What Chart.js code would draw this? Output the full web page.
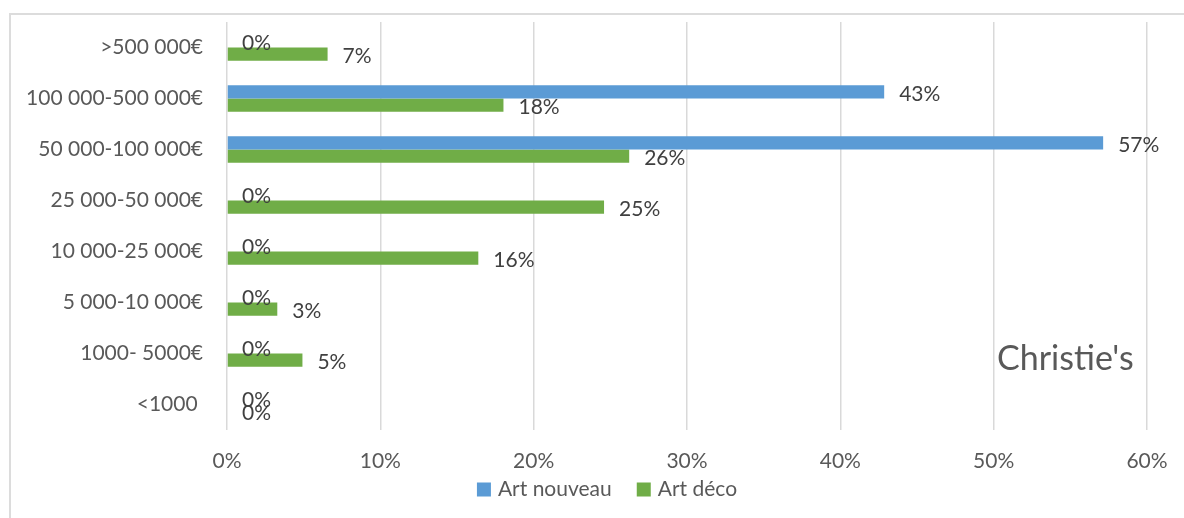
<!DOCTYPE html>
<html>
<head>
<meta charset="utf-8">
<script src="https://cdn.jsdelivr.net/npm/chart.js@4/dist/chart.umd.min.js"></script>
<style>
  html, body { margin: 0; padding: 0; background: #ffffff; overflow: hidden; width: 1184px; height: 518px; }
  #frame { position: absolute; left: 9px; top: 13px; width: 1300px; height: 600px; border: 2px solid #dcdcdc; }
  #wrap { position: absolute; left: 0; top: 0; width: 1184px; height: 518px; }
</style>
</head>
<body>
<div id="frame"></div>
<div id="wrap"><canvas id="c"></canvas></div>
<script>
const categories = [">500 000€", "100 000-500 000€", "50 000-100 000€", "25 000-50 000€", "10 000-25 000€", "5 000-10 000€", "1000- 5000€", "<1000 "];
const seriesNames = ["Art nouveau", "Art déco"];
const artNouveau = [0, 42.86, 57.14, 0, 0, 0, 0, 0];
const artDeco = [6.56, 18.03, 26.23, 24.59, 16.39, 3.28, 4.92, 0];
const xTicks = [0, 10, 20, 30, 40, 50, 60];
const annotationText = "Christie's";

const FONT = "Lato";
const AXIS_COLOR = "#595959";
const LABEL_COLOR = "#404040";

const dataLabels = {
  id: 'dataLabels',
  afterDatasetsDraw(chart) {
    const ctx = chart.ctx;
    ctx.save();
    ctx.font = "21px " + FONT;
    ctx.fillStyle = LABEL_COLOR;
    ctx.textAlign = 'left';
    ctx.textBaseline = 'middle';
    chart.data.datasets.forEach((ds, di) => {
      const meta = chart.getDatasetMeta(di);
      meta.data.forEach((bar, i) => {
        const v = ds.data[i];
        ctx.fillText(Math.round(v) + '%', bar.x + 15, bar.y + 2.5);
      });
    });
    ctx.restore();
  }
};

const annotation = {
  id: 'annotation',
  afterDraw(chart) {
    const ctx = chart.ctx;
    ctx.save();
    ctx.font = "34px " + FONT;
    ctx.fillStyle = AXIS_COLOR;
    ctx.textAlign = 'left';
    ctx.textBaseline = 'alphabetic';
    ctx.fillText(annotationText, 997, 370);
    ctx.restore();
  }
};

// Legend drawn from the datasets' own labels and colours
const bottomLegend = {
  id: 'bottomLegend',
  afterDraw(chart) {
    const ctx = chart.ctx;
    ctx.save();
    ctx.font = "21px " + FONT;
    const box = 14, gap = 7, spacing = 25;
    const items = chart.data.datasets.map(ds => ({ text: ds.label, color: ds.backgroundColor, w: ctx.measureText(ds.label).width }));
    const total = items.reduce((s, it) => s + box + gap + it.w, 0) + spacing * (items.length - 1);
    let x = 607 - total / 2;
    const yMid = 489;
    items.forEach(it => {
      ctx.fillStyle = it.color;
      ctx.fillRect(x, yMid - 6.5, box, box);
      ctx.fillStyle = AXIS_COLOR;
      ctx.textAlign = 'left';
      ctx.textBaseline = 'middle';
      ctx.fillText(it.text, x + box + gap, yMid);
      x += box + gap + it.w + spacing;
    });
    ctx.restore();
  }
};

new Chart(document.getElementById('c'), {
  type: 'bar',
  data: {
    labels: categories,
    datasets: [
      { label: seriesNames[0], data: artNouveau, backgroundColor: '#5B9BD5', borderWidth: 0 },
      { label: seriesNames[1], data: artDeco, backgroundColor: '#70AD47', borderWidth: 0 }
    ]
  },
  options: {
    indexAxis: 'y',
    responsive: true,
    maintainAspectRatio: false,
    animation: false,
    categoryPercentage: 0.52,
    barPercentage: 1,
    layout: { padding: { top: 22, left: 0, right: 37, bottom: 43 } },
    plugins: {
      legend: { display: false },
      tooltip: { enabled: false }
    },
    scales: {
      x: {
        position: 'bottom',
        min: 0,
        max: 60,
        afterBuildTicks(scale) { scale.ticks = xTicks.map(v => ({ value: v })); },
        ticks: {
          callback: v => v + '%',
          font: { family: FONT, size: 21 },
          color: AXIS_COLOR,
          padding: 19
        },
        grid: { color: '#d9d9d9', lineWidth: 1.5, drawTicks: false },
        border: { display: false },
        afterFit(scale) {
          scale.height = 45;
          scale.paddingLeft = 0; scale.paddingRight = 0;
        }
      },
      y: {
        position: 'left',
        ticks: {
          font: { family: FONT, size: 21 },
          color: AXIS_COLOR,
          padding: 24
        },
        grid: { display: false, drawTicks: false },
        border: { display: false },
        afterFit(scale) {
          scale.width = 227;
          scale.paddingTop = 0; scale.paddingBottom = 0;
        }
      }
    }
  },
  plugins: [dataLabels, annotation, bottomLegend]
});
</script>
</body>
</html>
